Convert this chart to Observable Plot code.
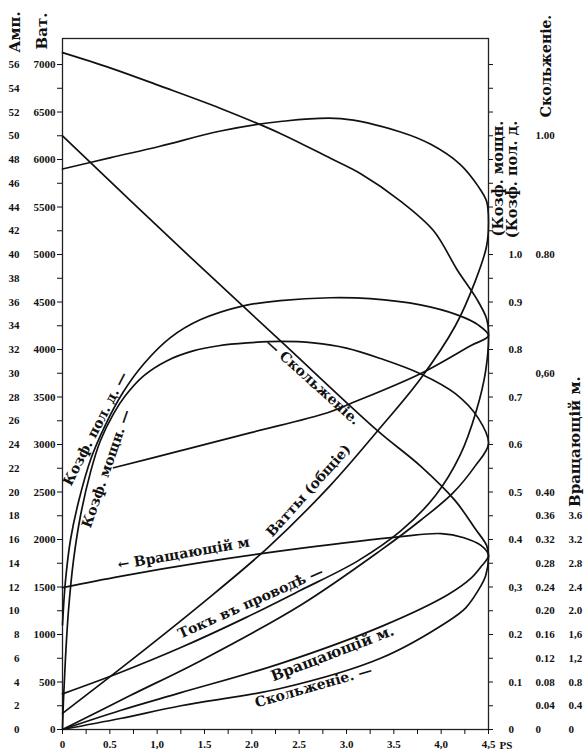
<!DOCTYPE html>
<html><head><meta charset="utf-8">
<script src="https://cdn.jsdelivr.net/npm/d3@7"></script>
<script src="https://cdn.jsdelivr.net/npm/@observablehq/plot@0.6"></script>
<style>html,body{margin:0;padding:0;background:#fff;} svg{display:block}</style>
</head><body><div id="chart"></div>
<script>
// ---- axis tick labels ----
const ampTicks = [0,2,4,6,8,10,12,14,16,18,20,22,24,26,28,30,32,34,36,38,40,42,44,46,48,50,52,54,56];
const wattTicks = [0,500,1000,1500,2000,2500,3000,3500,4000,4500,5000,5500,6000,6500,7000];
const coefTicks = [0,0.1,0.2,0.3,0.4,0.5,0.6,0.7,0.8,0.9,1.0];
const coefLabels = ["0","0.1","0.2","0,3","0.4","0.5","0.6","0.7","0.8","0.9","1.0"];
const slipTicks = [0,0.04,0.08,0.12,0.16,0.20,0.24,0.28,0.32,0.36,0.40,0.60,0.80,1.00];
const slipLabels = ["0","0.04","0.08","0.12","0.16","0.20","0.24","0.28","0.32","0.36","0.40","0,60","0.80","1.00"];
const torqueTicks = [0,0.4,0.8,1.2,1.6,2.0,2.4,2.8,3.2,3.6];
const torqueLabels = ["0","0.4","0.8","1,2","1,6","2.0","2.4","2.8","3.2","3.6"];
const psTicks = [0,0.5,1.0,1.5,2.0,2.5,3.0,3.5,4.0,4.5];
const psLabels = ["0","0.5","1,0","1.5","2.0","2.5","3.0","3.5","4,0","4,5"];

// ---- series (x = output PS; loops: working branch then return branch) ----
const currentPS  = [0,0.61,1.25,1.93,2.51,3.12,3.57,3.94,4.20,4.37,4.47,4.50,4.48,4.38,4.17,3.92,3.57,3.15,2.83,2.30,1.67,1.03,0.51,0];
const currentAmp = [3.0,4.8,6.9,9.4,11.7,14.2,16.7,19.7,23.1,26.8,30.2,33.5,34.6,36.2,38.7,42.0,44.5,46.8,48.1,50.2,52.3,54.2,55.7,57.0];

const wattsPS = [0,0.72,1.46,2.17,2.83,3.33,3.78,4.15,4.36,4.48,4.50,4.48,4.39,4.20,3.89,3.57,2.94,2.30,1.67,1.03,0.51,0];
const wattsW  = [170,725,1315,1915,2570,3145,3690,4250,4720,5090,5340,5560,5720,5950,6160,6290,6430,6400,6300,6140,6020,5900];

const pfPS = [0,0.03,0.085,0.17,0.30,0.45,0.64,0.86,1.14,1.46,1.91,2.30,2.83,3.25,3.78,4.17,4.39,4.50,4.31,3.78,3.04,2.80,1.99,1.25,0.54];
const pf   = [0.22,0.31,0.40,0.48,0.57,0.64,0.71,0.77,0.825,0.863,0.892,0.903,0.909,0.907,0.894,0.873,0.852,0.829,0.808,0.749,0.686,0.667,0.625,0.587,0.551];

const effPS = [0,0.01,0.03,0.063,0.116,0.19,0.30,0.40,0.54,0.665,0.86,1.10,1.38,1.65,1.95,2.30,2.65,3.00,3.36,3.78,4.15,4.39,4.50,4.36,4.12,3.78,3.36,2.51,1.46,0.72,0];
const eff   = [0,0.061,0.145,0.25,0.356,0.45,0.545,0.608,0.665,0.703,0.745,0.776,0.797,0.808,0.814,0.817,0.814,0.803,0.781,0.749,0.707,0.656,0.602,0.555,0.497,0.44,0.377,0.261,0.145,0.072,0];

const slipPS = [0,0.61,1.25,2.30,3.36,4.07,4.26,4.39,4.47,4.50,4.48,4.36,4.15,3.78,3.33,2.30,1.28,0];
const slip   = [0,0.0185,0.040,0.069,0.120,0.182,0.205,0.234,0.259,0.293,0.310,0.338,0.385,0.444,0.503,0.655,0.806,1.0];

const torquePS = [0,0.61,1.25,2.30,3.39,4.07,4.31,4.42,4.50,4.42,4.24,4.00,3.57,2.51,1.46,0.61,0];
const torque   = [0,0.32,0.62,1.11,1.75,2.27,2.54,2.74,2.93,3.10,3.23,3.30,3.25,3.05,2.81,2.58,2.39];

// unit relations (all drawn on the watt scale)
const W_PER_AMP = 125, W_PER_COEF = 5000, W_PER_SLIP = 6250, W_PER_TORQUE = 625;

function series(name, xs, vs, k) { return xs.map((x, i) => ({name, x, w: vs[i] * k})); }
const rows = [
  ...series("current", currentPS, currentAmp, W_PER_AMP),
  ...series("watts", wattsPS, wattsW, 1),
  ...series("pf", pfPS, pf, W_PER_COEF),
  ...series("eff", effPS, eff, W_PER_COEF),
  ...series("slip", slipPS, slip, W_PER_SLIP),
  ...series("torque", torquePS, torque, W_PER_TORQUE)
];

// annotations (x in PS, y in watt units)
const notes = [
  {t:"Амп.", x:-0.496, y:7343, r:-90, s:15},
  {t:"Ват.", x:-0.211, y:7353, r:-90, s:15},
  {t:"Скольженіе.", x:5.113, y:6985, r:-90, s:14},
  {t:"Вращающій м.", x:5.419, y:3030, r:-90, s:15},
  {t:"(Козф. мощн.", x:4.605, y:5800, r:-90, s:14.5},
  {t:"(Козф. пол. д.", x:4.753, y:5790, r:-90, s:14.5},
  {t:"Козф. пол. д. —", x:0.349, y:3167, r:-63, s:14},
  {t:"Козф. мощн. —", x:0.465, y:2746, r:-71, s:14},
  {t:"— Скольженіе.", x:2.641, y:3661, r:42, s:14},
  {t:"Ватты (общіе)", x:2.598, y:2514, r:-48, s:14},
  {t:"← Вращающій м", x:1.278, y:1852, r:-10, s:14},
  {t:"Токъ въ проводѣ —", x:1.986, y:1336, r:-24, s:14},
  {t:"Вращающій м.", x:2.852, y:800, r:-21, s:15},
  {t:"Скольженіе. —", x:2.651, y:452, r:-16, s:14}
];

const minorW = ampTicks.map(a => a * W_PER_AMP);
const wattSet = new Set(wattTicks);
const mk = (vals, labels, k) => new Map(vals.map((v, i) => [Math.round(v * k), labels[i]]));
const coefMap = mk(coefTicks, coefLabels, W_PER_COEF);
const slipMap = mk(slipTicks, slipLabels, W_PER_SLIP);
const torqueMap = mk(torqueTicks, torqueLabels, W_PER_TORQUE);
const psMap = new Map(psTicks.map((v, i) => [Math.round(v * 100), psLabels[i]]));
const quarter = d3.range(0, 4.501, 0.25);

const chart = Plot.plot({
  width: 584, height: 752,
  marginTop: 38, marginBottom: 23, marginLeft: 62, marginRight: 96,
  x: {domain: [0, 4.5]},
  y: {domain: [0, 7274]},
  style: {fontFamily: "'Liberation Serif', serif", fontWeight: "bold", fontSize: "11px", background: "#fff", color: "#111"},
  marks: [
    Plot.frame({stroke: "#222", strokeWidth: 1.3}),
    Plot.axisY({anchor: "left", ticks: minorW, tickSize: 5, tickPadding: 2, tickFormat: d => wattSet.has(d) ? String(d) : "", label: null}),
    Plot.axisY({anchor: "left", ticks: minorW, tickSize: 0, tickPadding: 43, tickFormat: d => String(Math.round(d / W_PER_AMP)), label: null}),
    Plot.axisY({anchor: "right", ticks: minorW, tickSize: 4, tickFormat: () => "", label: null}),
    Plot.axisY({anchor: "right", ticks: coefTicks.map(c => Math.round(c * W_PER_COEF)), tickSize: 0, tickPadding: 20, tickFormat: d => coefMap.get(Math.round(d)), label: null}),
    Plot.axisY({anchor: "right", ticks: slipTicks.map(c => Math.round(c * W_PER_SLIP)), tickSize: 0, tickPadding: 47, tickFormat: d => slipMap.get(Math.round(d)), label: null}),
    Plot.axisY({anchor: "right", ticks: torqueTicks.map(c => Math.round(c * W_PER_TORQUE)), tickSize: 0, tickPadding: 80, tickFormat: d => torqueMap.get(Math.round(d)), label: null}),
    Plot.axisX({anchor: "bottom", ticks: quarter, tickSize: 5, tickFormat: () => "", label: null}),
    Plot.axisX({anchor: "bottom", ticks: psTicks, tickSize: 0, tickPadding: 11, tickFormat: d => psMap.get(Math.round(d * 100)), label: null}),
    Plot.text(["PS"], {x: () => 4.5, y: () => 0, text: d => d, dx: 11, dy: 16, textAnchor: "start", fontSize: 11}),
    Plot.line(rows, {x: "x", y: "w", z: "name", curve: "catmull-rom", stroke: "#111", strokeWidth: 1.7}),
    Plot.text(notes, {x: "x", y: "y", text: "t", rotate: "r", fontSize: "s", fontFamily: "'DejaVu Serif', serif", fontWeight: "bold", fill: "#111"})
  ]
});
document.getElementById("chart").appendChild(chart);
</script>
</body></html>
